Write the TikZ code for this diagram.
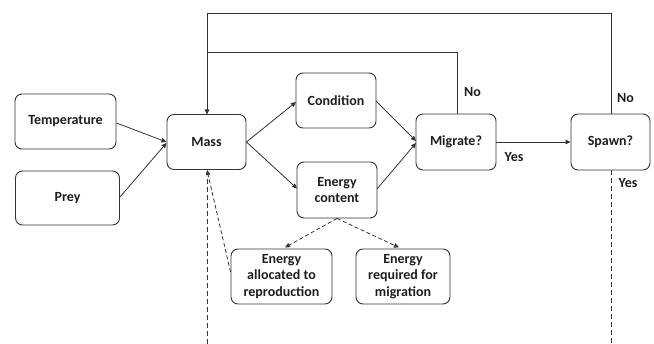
\documentclass[tikz,border=0pt]{standalone}
\usepackage{fontspec}
\setmainfont{Carlito}
\usetikzlibrary{arrows.meta,calc}
\definecolor{ln}{HTML}{333333}
\definecolor{tx}{HTML}{1E1E1E}
\begin{document}
\begin{tikzpicture}[x=1pt,y=-1pt,
  box/.style={draw=ln,line width=0.9pt,rounded corners=7pt,align=center,
    font=\fontsize{14}{16.5}\selectfont\bfseries,text=tx,inner sep=0pt},
  conn/.style={draw=ln,line width=0.8pt,-{Triangle[length=5pt,width=4.5pt]}},
  plain/.style={draw=ln,line width=0.8pt},
  dconn/.style={conn,dash pattern=on 4pt off 2.5pt},
  vdash/.style={plain,dash pattern=on 5pt off 3pt},
  lbl/.style={font=\fontsize{14}{16}\selectfont\bfseries,text=tx,inner sep=0pt}]
\useasboundingbox (0,0) rectangle (654,344);
\node[box,minimum width=101pt,minimum height=55pt] (temp) at (65.5,121.5) {Temperature};
\node[box,minimum width=104pt,minimum height=54pt] (prey) at (67.5,198) {Prey};
\node[box,minimum width=79pt,minimum height=55pt] (mass) at (206.5,142) {Mass};
\node[box,minimum width=80pt,minimum height=55pt] (cond) at (336,100.5) {Condition};
\node[box,minimum width=80pt,minimum height=56pt] (enc) at (337,190) {Energy\\content};
\node[box,minimum width=80pt,minimum height=56pt] (mig) at (456,142) {Migrate?};
\node[box,minimum width=79pt,minimum height=56pt] (spawn) at (610.5,142) {Spawn?};
\node[box,minimum width=101pt,minimum height=55pt] (ea) at (281.5,276.5) {Energy\\allocated to\\reproduction};
\node[box,minimum width=94pt,minimum height=55pt] (er) at (403,276.5) {Energy\\required for\\migration};
\coordinate (c1) at (611,13);
\coordinate (c2) at (207,13);
\coordinate (c3) at (457,52);
\coordinate (c4) at (207,52);
\coordinate (b1) at (207,344);
\coordinate (b2) at (611,344);
\coordinate (ms) at (207,170);
\coordinate (mn) at (207,114.5);
% solid arrows
\draw[conn] (temp.east) ++(0,1.5) -- (166.5,142);
\draw[conn] (120,197) -- (166.5,143);
\draw[conn] (mass.east) -- (296,102);
\draw[conn] (mass.east) -- (297,188.5);
\draw[conn] (376,101) -- (416,141);
\draw[conn] (377,189) -- (416,143);
\draw[conn] (mig.east) -- (spawn.west);
% feedback loops
\draw[plain] (mig.north -| c3) -- (c3) -- (c4);
\draw[conn] (spawn.north -| c1) -- (c1) -- (c2) -- (mn);
% dashed
\draw[dconn] (enc.south) -- (285,247.5);
\draw[dconn] (enc.south) -- (399,247.5);
\draw[dconn] ($(ea.west)+(0,-4.5)$) -- (ms);
\draw[vdash] (b1) -- (207,176);
\draw[vdash] (spawn.south -| b2) -- (b2);
% labels
\node[lbl] (no1) at (472.5,92) {No};
\node[lbl] (no2) at (625.5,98) {No};
\node[lbl] (yes1) at (514,157) {Yes};
\node[lbl] (yes2) at (628,183) {Yes};
\end{tikzpicture}
\end{document}
